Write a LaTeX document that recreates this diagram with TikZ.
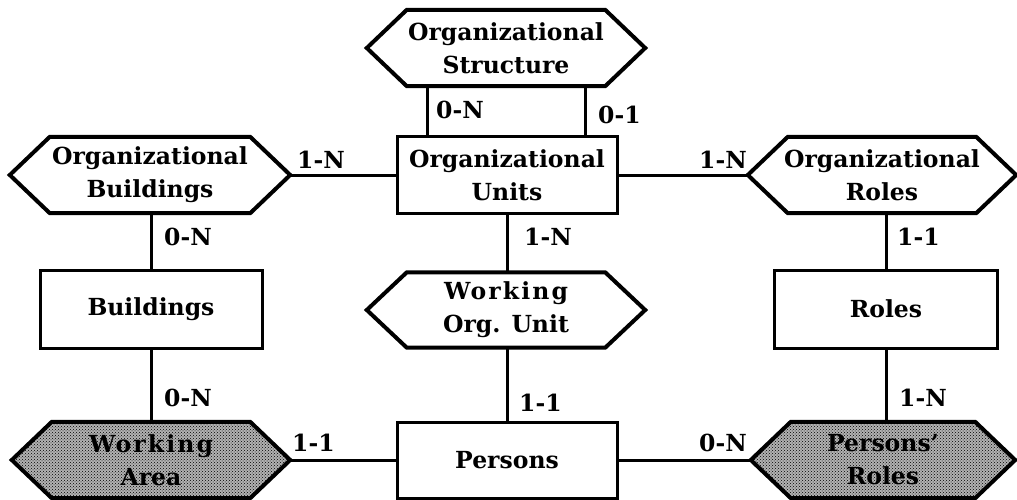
\documentclass[tikz,border=0pt]{standalone}
\usepackage{fontspec}
\setmainfont{DejaVu Serif}
\usetikzlibrary{patterns}
\pgfdeclarelayer{bg}
\pgfsetlayers{bg,main}
\newcommand\spaced[1]{{\addfontfeature{LetterSpace=9}#1}}
\tikzset{
  txt/.style={font=\bfseries\fontsize{23.5}{33}\selectfont},
  entbox/.style={txt, draw, line width=3pt, inner sep=0pt, align=center},
  hexn/.style={txt, inner sep=0pt, align=center, minimum height=76pt},
  conn/.style={line width=3pt},
  card/.style={txt, inner sep=0pt, anchor=west},
  hexline/.style={line width=4pt, line join=miter},
  shadefill/.style={preaction={fill=black!30}, pattern=crosshatch dots, pattern color=black}
}
\newcommand\hexdraw[2][]{%
  \draw[hexline,#1] (#2.west) -- ([xshift=40pt]#2.north west) -- ([xshift=-40pt]#2.north east)
    -- (#2.east) -- ([xshift=-40pt]#2.south east) -- ([xshift=40pt]#2.south west) -- cycle;}
\begin{document}
\begin{tikzpicture}[x=1pt,y=-1pt]
\useasboundingbox (0,0) rectangle (1017,500);
% entities
\node[hexn, minimum width=278pt] (os) at (506,48) {Organizational\\Structure};
\node[entbox, minimum width=220pt, minimum height=76pt] (ou) at (507,175) {Organizational\\Units};
\node[hexn, minimum width=280pt] (ob) at (150,175) {Organizational\\Buildings};
\node[hexn, minimum width=268pt] (or) at (882,175) {Organizational\\Roles};
\node[entbox, minimum width=222pt, minimum height=78pt] (bu) at (151,309) {Buildings};
\node[hexn, minimum width=278pt, minimum height=75pt] (wou) at (506,310) {\spaced{Working}\\Org. Unit};
\node[entbox, minimum width=223pt, minimum height=78pt] (ro) at (886,309) {Roles};
\node[hexn, minimum width=278pt] (wa) at (151,460) {\spaced{Working}\\Area};
\node[entbox, minimum width=220pt, minimum height=76pt] (pe) at (507,460) {Persons};
\node[hexn, minimum width=264pt] (pr) at (883,460) {Persons'\\Roles};
\begin{pgfonlayer}{bg}
\hexdraw{os}
\hexdraw{ob}
\hexdraw{or}
\hexdraw{wou}
\hexdraw[shadefill]{wa}
\hexdraw[shadefill]{pr}
\end{pgfonlayer}
% connectors
\draw[conn] ([xshift=-80pt]ou.north) -- ([xshift=-80pt]ou.north |- os.south);
\draw[conn] ([xshift=78pt]ou.north) -- ([xshift=78pt]ou.north |- os.south);
\draw[conn] (ob.east) -- (ou.west);
\draw[conn] (ou.east) -- (or.west);
\draw[conn] (bu.north) -- (bu.north |- ob.south);
\draw[conn] (bu.south) -- (bu.south |- wa.north);
\draw[conn] (ou.south) -- (ou.south |- wou.north);
\draw[conn] (pe.north) -- (pe.north |- wou.south);
\draw[conn] (ro.north) -- (ro.north |- or.south);
\draw[conn] (ro.south) -- (ro.south |- pr.north);
\draw[conn] (wa.east) -- (pe.west);
\draw[conn] (pe.east) -- (pr.west);
% cardinalities
\node[card] (c1) at (436,110) {0-N};
\node[card] (c2) at (598,115) {0-1};
\node[card] (c3) at (297,160) {1-N};
\node[card] (c4) at (699,160) {1-N};
\node[card] (c5) at (164,237) {0-N};
\node[card] (c6) at (524,237) {1-N};
\node[card] (c7) at (897,237) {1-1};
\node[card] (c8) at (164,398) {0-N};
\node[card] (c9) at (519,403) {1-1};
\node[card] (c10) at (899,398) {1-N};
\node[card] (c11) at (292,443) {1-1};
\node[card] (c12) at (699,443) {0-N};
\end{tikzpicture}
\end{document}
